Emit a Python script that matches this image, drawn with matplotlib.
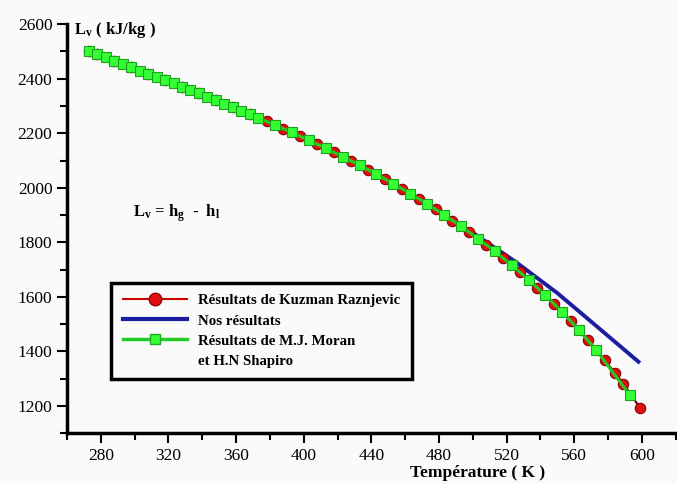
import numpy as np
import matplotlib
matplotlib.use('Agg')
import matplotlib.pyplot as plt
from matplotlib.lines import Line2D
from matplotlib.ticker import MultipleLocator

plt.rcParams['font.family'] = 'Liberation Serif'
plt.rcParams['mathtext.fontset'] = 'custom'
plt.rcParams['mathtext.rm'] = 'Liberation Serif'
plt.rcParams['mathtext.bf'] = 'Liberation Serif:bold'
plt.rcParams['mathtext.it'] = 'Liberation Serif:italic'

# Moran & Shapiro (green squares)
T_moran = [273, 278, 283, 288, 293, 298, 303, 308, 313, 318, 323, 328, 333, 338, 343,
           348, 353, 358, 363, 368, 373, 383, 393, 403, 413, 423, 433, 443, 453, 463,
           473, 483, 493, 503, 513, 523, 533, 543, 553, 563, 573, 593]
L_moran = [2501, 2490, 2478, 2466, 2454, 2442, 2430, 2419, 2407, 2395, 2383, 2371, 2358,
           2346, 2334, 2321, 2309, 2296, 2283, 2270, 2257, 2230, 2203, 2174, 2145, 2114,
           2083, 2050, 2015, 1979, 1941, 1901, 1859, 1814, 1767, 1716, 1663, 1605, 1544,
           1477, 1405, 1239]

# Kuzman Raznjevic (red circles)
T_kuz = [273, 278, 288, 298, 308, 318, 328, 338, 348, 358, 368, 378, 388, 398, 408, 418,
         428, 438, 448, 458, 468, 478, 488, 498, 508, 518, 528, 538, 548, 558, 568, 578,
         584, 589, 599]
L_kuz = [2501, 2490, 2466, 2443, 2419, 2395, 2371, 2347, 2322, 2296, 2271, 2244, 2217,
         2189, 2160, 2130, 2099, 2066, 2033, 1997, 1960, 1921, 1880, 1837, 1791, 1742,
         1690, 1634, 1575, 1511, 1442, 1368, 1322, 1282, 1192]

# Nos resultats (blue line)
T_nos = [273, 300, 325, 350, 375, 400, 425, 450, 475, 500, 525, 550, 575, 598]
L_nos = [2501, 2438, 2378, 2317, 2252, 2183, 2109, 2026, 1933, 1835, 1730, 1614, 1483, 1362]

fig = plt.figure(figsize=(6.77, 4.84), dpi=100, facecolor='#fafafa')
ax = fig.add_axes([0.099, 0.105, 0.899, 0.845])
ax.set_facecolor('#fafafa')

ax.plot(T_nos, L_nos, color='#1c1ca0', lw=2.8, zorder=1)
ax.plot(T_kuz, L_kuz, color='#600000', lw=1.5, marker='o', ms=7.5,
        mfc='#e01010', mec='#8a0000', mew=0.8, zorder=2)
ax.plot(T_moran, L_moran, color='#22cc22', lw=2.2, marker='s', ms=6.5,
        mfc='#33ff33', mec='#1f9f1f', mew=0.8, zorder=3)

ax.set_xlim(260, 620)
ax.set_ylim(1100, 2600)
ax.xaxis.set_minor_locator(MultipleLocator(20))
ax.yaxis.set_minor_locator(MultipleLocator(100))
ax.set_xticks(np.arange(280, 601, 40))
ax.set_yticks(np.arange(1200, 2601, 200))
ax.tick_params(which='major', direction='out', length=7, width=1.5, labelsize=12.5)
ax.tick_params(which='minor', direction='out', length=5, width=1.5)
for s in ['top', 'right']:
    ax.spines[s].set_visible(False)
for s in ['left', 'bottom']:
    ax.spines[s].set_linewidth(2.5)

fig.text(74 / 677, 1 - 30 / 484, r'L$_{\mathbf{v}}$ ( kJ/kg )', fontsize=12,
         fontweight='bold', ha='left', va='center')
fig.text(133 / 677, 1 - 213 / 484, r'L$_{\mathbf{v}}$ = h$_{\mathbf{g}}$  -  h$_{\mathbf{l}}$',
         fontsize=12, fontweight='bold', ha='left', va='center')
fig.text(478 / 677, 1 - 473 / 484, 'Température ( K )', fontsize=12.5,
         fontweight='bold', ha='center', va='center')

handles = [
    Line2D([], [], color='#d00000', lw=1.5, marker='o', ms=9, mfc='#e01010', mec='#900000'),
    Line2D([], [], color='#1c1ca0', lw=3),
    Line2D([], [], color='#22cc22', lw=2.5, marker='s', ms=7, mfc='#33ff33', mec='#22aa22'),
    Line2D([], [], color='none'),
]
labels = ['Résultats de Kuzman Raznjevic', 'Nos résultats',
          'Résultats de M.J. Moran', 'et H.N Shapiro']
leg = ax.legend(handles, labels, loc='upper left', bbox_to_anchor=(0.073, 0.3675),
                prop={'weight': 'bold', 'size': 10.7}, handlelength=4.3, numpoints=1,
                fancybox=False, framealpha=1, edgecolor='black', facecolor='#fafafa',
                labelspacing=0.45, borderpad=0.75, borderaxespad=0)
leg.get_frame().set_linewidth(2.5)

fig.savefig('out.png', dpi=100, facecolor=fig.get_facecolor())
